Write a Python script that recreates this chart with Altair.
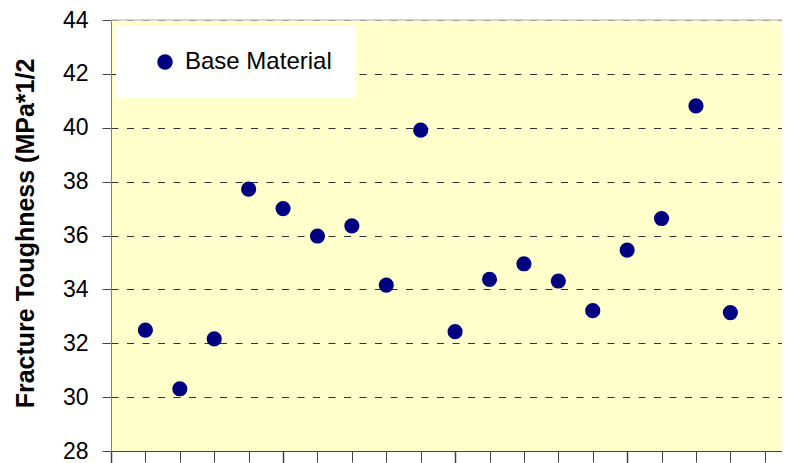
import altair as alt
import pandas as pd

# ---- data ----
sample = list(range(1, 19))
toughness = [32.49, 30.31, 32.16, 37.72, 37.00, 35.98, 36.36, 34.16, 39.91,
             32.43, 34.37, 34.95, 34.31, 33.21, 35.46, 36.63, 40.81, 33.14]
series = ["Base Material"] * len(sample)
y_ticks = [28, 30, 32, 34, 36, 38, 40, 42, 44]
x_ticks = list(range(0, 20))
y_top = [44]

df = pd.DataFrame({"sample": sample, "toughness": toughness, "series": series})
top_df = pd.DataFrame({"y": y_top})

FONT = "Liberation Sans"

x_enc = alt.X(
    "sample:Q",
    scale=alt.Scale(domain=[0, 19.5], nice=False, zero=False),
    axis=alt.Axis(
        values=x_ticks, labels=False, title=None, grid=False,
        tickSize={"condition": {"test": "datum.value % 5 === 0", "value": 14}, "value": 11},
        tickWidth={"condition": {"test": "datum.value % 5 === 0", "value": 1.5}, "value": 1},
        tickColor="#444444", domainColor="#444444", domainWidth=1,
    ),
)

y_scale = alt.Scale(domain=[28, 44], nice=False, zero=False)

points = alt.Chart(df).mark_circle(size=230, opacity=1).encode(
    x=x_enc,
    y=alt.Y(
        "toughness:Q",
        scale=y_scale,
        axis=alt.Axis(
            values=y_ticks,
            title="Fracture Toughness (MPa*1/2",
            titleFont=FONT, titleFontSize=25, titleFontWeight="bold", titleColor="black",
            titleAngle=270, titleAlign="center", titleBaseline="alphabetic",
            titleX=-78, titleY=213,
            labelFont=FONT, labelFontSize=23, labelColor="black", labelPadding=14,
            tickSize=9, tickColor="#444444", domainColor="#808080",
            grid=True, gridColor="#333333", gridDash=[7, 8.5], gridWidth=1,
        ),
    ),
    color=alt.Color(
        "series:N",
        scale=alt.Scale(domain=["Base Material"], range=["#000080"]),
        legend=alt.Legend(
            title=None, orient="none", legendX=5, legendY=6,
            fillColor="white", padding=24, symbolOffset=13,
            labelFont=FONT, labelFontSize=24, labelColor="black",
            labelOffset=8, symbolSize=240, symbolStrokeWidth=0,
            labelLimit=400,
        ),
    ),
)

top_rule = alt.Chart(top_df).mark_rule(color="#c8c8c8", strokeWidth=1.5).encode(
    y=alt.Y("y:Q", scale=y_scale)
)

chart = alt.layer(top_rule, points).properties(
    width=671, height=431,
    autosize=alt.AutoSizeParams(type="none"),
    padding={"left": 103, "top": 12, "right": 0, "bottom": 12},
).configure_view(fill="#FFFFCC", strokeWidth=0)

chart.save("out.html", embed_options={"renderer": "svg", "actions": False})
